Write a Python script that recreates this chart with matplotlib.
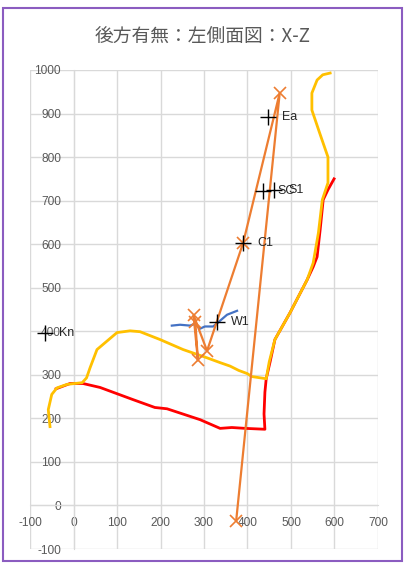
import matplotlib
matplotlib.use("Agg")
import matplotlib.pyplot as plt
from matplotlib.patches import Rectangle

plt.rcParams["axes.unicode_minus"] = False

# ---- data ----
red_x = [-40, -8, 22, 61, 137, 187, 215, 291, 337, 364, 395, 440, 438, 440, 443, 452, 463, 498, 537, 551, 560, 567, 574, 585, 599]
red_z = [268, 280, 280, 271, 243, 225, 222, 197, 177, 179, 177, 175, 210, 260, 291, 330, 381, 443, 518, 548, 571, 633, 702, 725, 750]

yellow_x = [-54, -58, -50, -38, -15, 20, 30, 38, 54, 100, 130, 153, 199, 252, 307, 337, 360, 380, 399, 410, 443,
            450, 463, 498, 537, 551, 563, 572, 585, 585, 566, 548, 548, 560, 573, 590]
yellow_z = [181, 220, 255, 270, 278, 282, 293, 316, 358, 397, 401, 399, 381, 358, 339, 328, 320, 310, 303, 296, 291,
            330, 381, 443, 518, 557, 626, 702, 741, 800, 855, 908, 947, 977, 989, 993]

orange_x = [374, 474, 390, 307, 276, 286, 280]
orange_z = [-35, 947, 603, 355, 437, 333, 422]

blue_x = [226, 245, 268, 279, 291, 302, 321, 332, 353, 376]
blue_z = [413, 415, 413, 417, 406, 411, 411, 420, 438, 447]

pt_labels = ["Kn", "W1", "C1", "SC", "S1", "Ea"]
pt_x = [-65, 330, 390, 436, 461, 447]
pt_z = [395, 422, 603, 722, 725, 892]

x_ticks = [-100, 0, 100, 200, 300, 400, 500, 600, 700]
y_ticks = [-100, 0, 100, 200, 300, 400, 500, 600, 700, 800, 900, 1000]
title = "後方有無：左側面図：X-Z"

# ---- figure ----
W, H = 406, 564
fig = plt.figure(figsize=(W / 100, H / 100), dpi=100)
fig.patches.append(Rectangle((3.5 / W, 3 / H), 399 / W, 553 / H, transform=fig.transFigure,
                             fill=False, edgecolor="#8B5CC0", linewidth=1.5))

ax = fig.add_axes([30 / W, 15 / H, 348 / W, 479 / H])
ax.set_xlim(-100, 700)
ax.set_ylim(-100, 1000)
ax.set_xticks(x_ticks)
ax.set_yticks(y_ticks)
ax.grid(True, color="#D9D9D9", linewidth=1.0)
ax.set_axisbelow(True)
for s in ["top", "right"]:
    ax.spines[s].set_visible(False)
ax.spines["left"].set_position(("data", 0))
ax.spines["bottom"].set_position(("data", 0))
ax.spines["left"].set_color("#D9D9D9")
ax.spines["bottom"].set_color("#D9D9D9")
ax.tick_params(length=0, labelsize=8.6, labelcolor="#595959")
ax.tick_params(axis="y", pad=9)
ax.tick_params(axis="x", pad=8)
for lab in ax.get_xticklabels() + ax.get_yticklabels():
    lab.set_fontfamily("Liberation Sans")

ax.plot(red_x, red_z, color="#FF0000", linewidth=2.0, zorder=3)
ax.plot(yellow_x, yellow_z, color="#FFC000", linewidth=2.0, zorder=4)
ax.plot(blue_x, blue_z, color="#4472C4", linewidth=1.6, zorder=5)
ax.plot(orange_x, orange_z, color="#ED7D31", linewidth=1.6, marker="x",
        markersize=8, markeredgewidth=1.2, zorder=6)
ax.plot(pt_x, pt_z, linestyle="none", marker="+", color="black",
        markersize=11, markeredgewidth=1.0, zorder=7)
for lx, lz, lt in zip(pt_x, pt_z, pt_labels):
    ax.annotate(lt, (lx, lz), xytext=(14, 0), textcoords="offset pixels",
                ha="left", va="center", fontsize=9, color="#262626",
                family="Liberation Sans", zorder=8)

fig.text(0.5, 1 - 37 / H, title, ha="center", va="center", fontsize=13.5,
         color="#595959", family=["Noto Sans CJK JP", "DejaVu Sans"])

fig.savefig("out.png", dpi=100)
